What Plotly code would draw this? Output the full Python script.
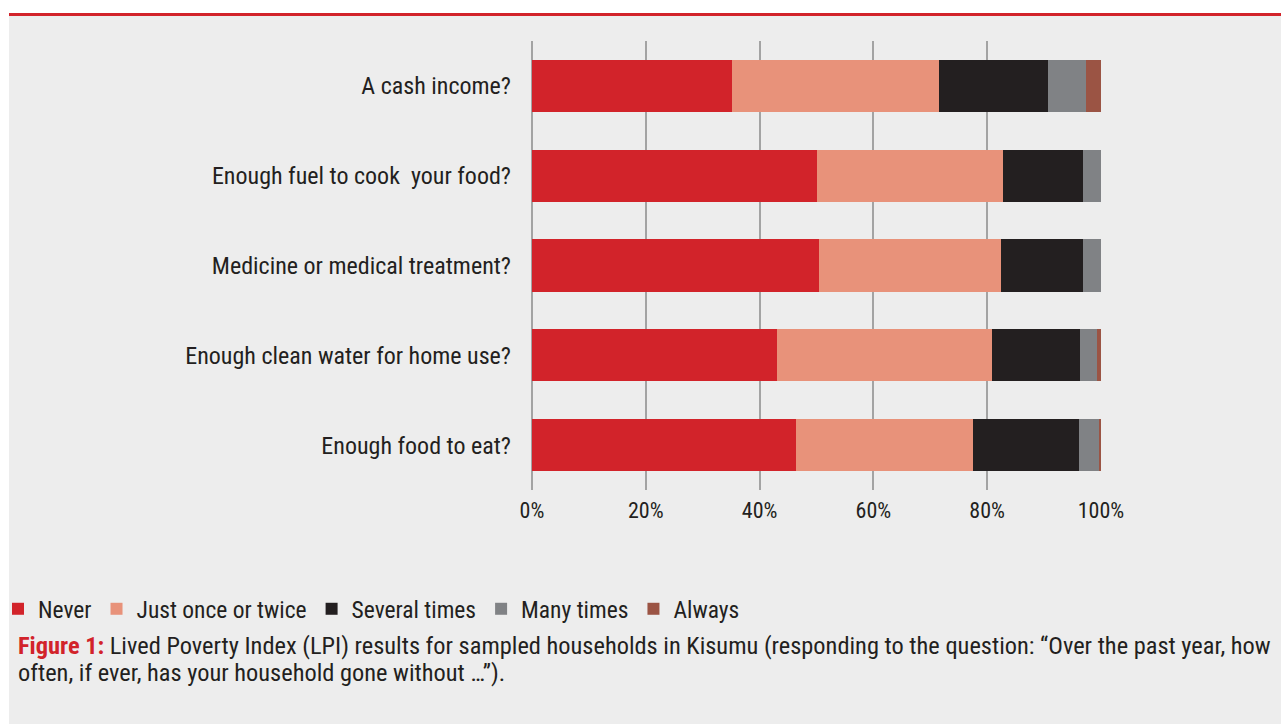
import plotly.graph_objects as go

categories = [
    "A cash income?",
    "Enough fuel to cook  your food?",
    "Medicine or medical treatment?",
    "Enough clean water for home use?",
    "Enough food to eat?",
]
never = [35.1, 50.1, 50.4, 43.1, 46.4]
once_twice = [36.4, 32.7, 32.0, 37.7, 31.1]
several = [19.2, 14.0, 14.4, 15.5, 18.6]
many = [6.7, 3.2, 3.2, 3.0, 3.5]
always = [2.6, 0.0, 0.0, 0.7, 0.4]

series_names = ["Never", "Just once or twice", "Several times", "Many times", "Always"]
series_values = [never, once_twice, several, many, always]
series_colors = ["#d2232a", "#e8927a", "#231f20", "#808285", "#9b5444"]

tick_vals = [0, 20, 40, 60, 80, 100]
tick_text = ["0%", "20%", "40%", "60%", "80%", "100%"]

FONT = "Liberation Sans Narrow, Roboto Condensed, DejaVu Sans Condensed, Roboto, sans-serif"
TXT = "#231f20"

W, H = 1281, 724
L, R, T, B = 532, 180, 41, 234
PW, PH = W - L - R, H - T - B


def px(x):
    return (x - L) / PW


def py(y):
    return (H - B - y) / PH


fig = go.Figure()
for name, vals, col in zip(series_names, series_values, series_colors):
    fig.add_trace(go.Bar(
        y=categories, x=vals, name=name, orientation="h",
        marker=dict(color=col, line=dict(width=0)),
    ))

shapes = [
    dict(type="rect", xref="paper", yref="paper", x0=px(0), x1=px(W), y0=py(0), y1=py(13),
         fillcolor="white", line=dict(width=0), layer="below"),
    dict(type="rect", xref="paper", yref="paper", x0=px(0), x1=px(9), y0=py(0), y1=py(H),
         fillcolor="white", line=dict(width=0), layer="below"),
    dict(type="rect", xref="paper", yref="paper", x0=px(9), x1=px(W), y0=py(13), y1=py(16),
         fillcolor="#d2232a", line=dict(width=0), layer="below"),
]

annotations = [
    dict(xref="paper", yref="paper", x=px(16), y=py(645), xanchor="left", yanchor="middle",
         showarrow=False, align="left",
         text="<b><span style='color:#d2232a'>Figure 1:</span></b> Lived Poverty Index (LPI) results for sampled households in Kisumu (responding to the question: \u201cOver the past year, how",
         font=dict(family=FONT, size=24.4, color=TXT)),
    dict(xref="paper", yref="paper", x=px(16), y=py(673), xanchor="left", yanchor="middle",
         showarrow=False, align="left",
         text="often, if ever, has your household gone without \u2026\u201d).",
         font=dict(family=FONT, size=24.4, color=TXT)),
]

fig.update_layout(
    width=W, height=H,
    margin=dict(l=L, r=R, t=T, b=B, pad=0, autoexpand=False),
    paper_bgcolor="#ededed", plot_bgcolor="#ededed",
    barmode="stack", bargap=0.42,
    font=dict(family=FONT, size=24, color=TXT),
    xaxis=dict(range=[0, 100], tickvals=tick_vals, ticktext=tick_text,
               showgrid=True, gridcolor="#a3a3a3", gridwidth=1.5,
               zeroline=True, zerolinecolor="#a3a3a3", zerolinewidth=1.5,
               showline=False, ticks="", ticklabelstandoff=5, automargin=False,
               tickfont=dict(family=FONT, size=22, color=TXT), fixedrange=True),
    yaxis=dict(categoryorder="array", categoryarray=categories, autorange="reversed",
               showgrid=False, zeroline=False, ticks="", ticklabelstandoff=20, automargin=False,
               tickfont=dict(family=FONT, size=24, color=TXT), fixedrange=True),
    legend=dict(orientation="h", x=px(-2), y=py(609), xanchor="left", yanchor="middle",
                font=dict(family=FONT, size=23.5, color=TXT), bgcolor="rgba(0,0,0,0)",
                itemwidth=30, traceorder="normal"),
    shapes=shapes, annotations=annotations,
)

fig.write_html("out.html")
